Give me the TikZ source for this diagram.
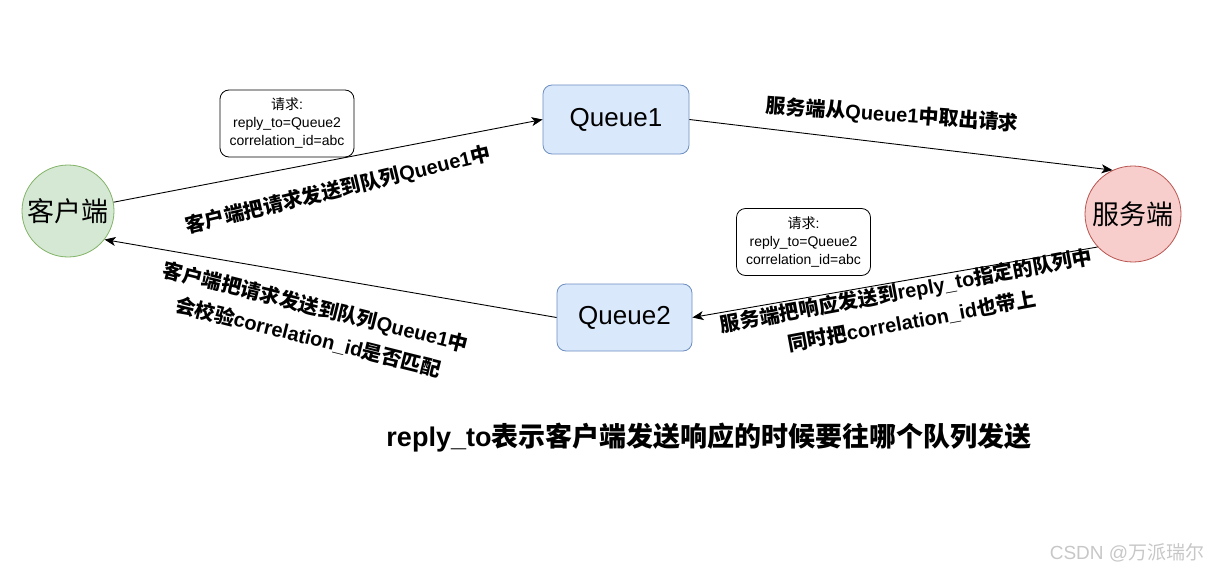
\documentclass[tikz,border=0pt]{standalone}
\usepackage{fontspec}
\setmainfont{Liberation Sans}
\newfontfamily\cjk{Noto Sans CJK SC}
\newcommand{\zh}[1]{{\cjk #1}}
\usetikzlibrary{arrows.meta}

\definecolor{clientfill}{HTML}{D5E8D4}
\definecolor{clientline}{HTML}{82B366}
\definecolor{serverfill}{HTML}{F8CECC}
\definecolor{serverline}{HTML}{B85450}
\definecolor{queuefill}{HTML}{DAE8FC}
\definecolor{queueline}{HTML}{6C8EBF}

\begin{document}
\begin{tikzpicture}[
    x=1pt, y=-1pt,
    party/.style={circle, draw, line width=0.8pt, inner sep=0pt, font=\fontsize{27}{30}\selectfont\cjk},
    clientnode/.style={party, fill=clientfill, draw=clientline, minimum size=92pt},
    servernode/.style={party, fill=serverfill, draw=serverline, minimum size=96pt},
    queue/.style={draw=queueline, fill=queuefill, rounded corners=9pt, line width=0.8pt, font=\fontsize{26}{30}\selectfont},
    msgbox/.style={draw, rounded corners=9pt, line width=0.8pt, minimum width=134pt, minimum height=67pt, align=center, font=\fontsize{14}{18}\selectfont},
    flow/.style={-{Stealth[length=11pt, width=9pt, inset=3pt]}, line width=0.9pt},
    note/.style={font=\bfseries\fontsize{20}{31}\selectfont, align=center}
]
\useasboundingbox (0,0) rectangle (1223,575);

% === PARTIES ===
\node[clientnode] (client) at (68,211) {客户端};
\node[servernode] (server) at (1133,214) {服务端};

% === QUEUES ===
\node[queue, minimum width=146pt, minimum height=69pt] (queue1) at (616,119.5) {Queue1};
\node[queue, minimum width=135pt, minimum height=67pt] (queue2) at (624.5,317.5) {Queue2};

% === MESSAGE BOXES ===
\node[msgbox] (msg1) at (287,123.5) {\zh{请求}:\\reply\_to=Queue2\\correlation\_id=abc};
\node[msgbox] (msg2) at (803.5,242) {\zh{请求}:\\reply\_to=Queue2\\correlation\_id=abc};

% === FLOWS ===
\draw[flow] (client) -- (queue1.west);
\draw[flow] (queue1.east) -- (server.115);
\draw[flow] (server.223) -- (queue2.east);
\draw[flow] (queue2.west) -- (client.322);

% labels on the flows
\node[note, rotate=13.5] (send) at (338,190) {\zh{客户端把请求发送到队列}Queue1\zh{中}};
\node[note, rotate=-4] (take) at (892,115) {\zh{服务端从}Queue1\zh{中取出请求}};
\node[note, rotate=10.5] (reply) at (909,306) {\zh{服务端把响应发送到}reply\_to\zh{指定的队列中}\\\zh{同时把}correlation\_id\zh{也带上}};
\node[note, rotate=-14] (check) at (312,322) {\zh{客户端把请求发送到队列}Queue1\zh{中}\\\zh{会校验}correlation\_id\zh{是否匹配}};

% caption below
\node[font=\bfseries\fontsize{27}{30}\selectfont] (caption) at (709,438) {reply\_to\zh{表示客户端发送响应的时候要往哪个队列发送}};
\node[text=black!22, font=\fontsize{19}{22}\selectfont] (mark) at (1127,553) {CSDN @\zh{万派瑞尔}};

\end{tikzpicture}
\end{document}
